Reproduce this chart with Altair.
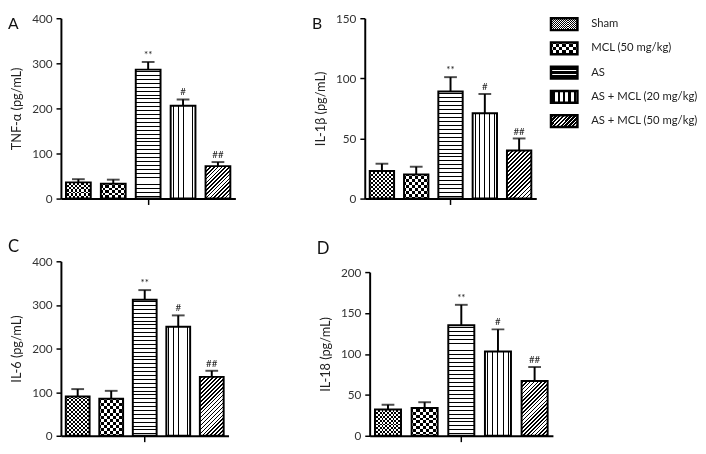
import altair as alt
import pandas as pd

FONT = "Lato"

groups = ["Sham", "MCL (50 mg/kg)", "AS", "AS + MCL (20 mg/kg)", "AS + MCL (50 mg/kg)"]
sig = ["", "", "**", "#", "##"]
kinds = ["checker_fine", "checker_coarse", "hlines", "vlines", "diag"]

tnf_mean = [36, 33, 286, 206, 72]
tnf_sem = [7, 9, 17, 14, 9]
il1b_mean = [23, 20, 89, 71, 40]
il1b_sem = [6, 6.5, 12, 16, 10]
il6_mean = [90, 85, 312, 250, 135]
il6_sem = [17, 18, 22, 26, 14]
il18_mean = [32, 34, 135, 103, 67]
il18_sem = [6, 7, 25, 27, 17]


def stripes(direction, w, h, period, line, fg, bg):
    if direction == "h":
        length = h
    elif direction == "v":
        length = w
    else:
        length = w + h
    n = max(1, int(round(length / period)))
    lf = min(0.95, line / (length / n))
    stops = [{"offset": 0.0, "color": bg}]
    for i in range(n):
        a = round((i + 0.5 - lf / 2) / n, 5)
        b = round((i + 0.5 + lf / 2) / n, 5)
        a = min(max(a, 0.0), 1.0)
        b = min(max(b, 0.0), 1.0)
        stops += [{"offset": a, "color": bg}, {"offset": a, "color": fg},
                  {"offset": b, "color": fg}, {"offset": b, "color": bg}]
    stops.append({"offset": 1.0, "color": bg})
    if direction == "h":
        x1, y1, x2, y2 = 0, 0, 0, 1
    elif direction == "v":
        x1, y1, x2, y2 = 0, 0, 1, 0
    else:
        s = w + h
        d = w * w + h * h
        x1, y1, x2, y2 = 0, 0, round(w * s / d, 5), round(h * s / d, 5)
    return {"gradient": "linear", "x1": x1, "y1": y1, "x2": x2, "y2": y2, "stops": stops}


def fills(kind, w, h, swatch=False):
    h = max(h, 1)
    if kind in ("checker_fine", "checker_coarse"):
        if swatch:
            c = 1.0 if kind == "checker_fine" else 3.0
        else:
            c = 2.0 if kind == "checker_fine" else 3.0
        return [(stripes("v", w, h, 2 * c, c, "black", "white"), None),
                (stripes("h", w, h, 2 * c, c, "white", "black"), "difference")]
    lw = 2.5 if swatch else 1.0
    if kind == "hlines":
        return [(stripes("h", w, h, 4, lw, "black", "white"), None)]
    if kind == "vlines":
        return [(stripes("v", w, h, 5, lw, "black", "white"), None)]
    return [(stripes("d", w, h, 4, 2.5 if swatch else 1.6, "black", "white"), None)]


xaxis = alt.Axis(values=["AS"], labels=False, title=None, domainColor="black",
                 domainWidth=2, tickColor="black", tickWidth=1.5, tickSize=6)


def ychan(field, ymax, ystep, ytitle, H, ytop):
    sc = dict(domain=[0, ymax], nice=False, zero=True)
    if ytop:
        sc["range"] = [H, ytop]
    return alt.Y(f"{field}:Q",
                 scale=alt.Scale(**sc),
                 axis=alt.Axis(values=list(range(0, ymax + 1, ystep)), title=ytitle,
                               titleFont=FONT, titleFontSize=13, titleFontWeight="normal",
                               titleColor="#222", titlePadding=8,
                               labelFont=FONT, labelFontSize=12, labelColor="#333",
                               labelPadding=4, tickSize=5, tickWidth=1.5, tickColor="black",
                               domainColor="black", domainWidth=2, grid=False))


def panel(letter, ytitle, mean, sem, ymax, ystep, W, H, toff, tsize, ytop=0):
    top = [m + s for m, s in zip(mean, sem)]
    df = pd.DataFrame({"group": groups, "mean": mean, "top": top, "sig": sig})
    base = alt.Chart(df)
    X = alt.X("group:N", scale=alt.Scale(domain=groups, paddingInner=0.29, paddingOuter=0.145),
              axis=xaxis)
    Ym = ychan("mean", ymax, ystep, ytitle, H, ytop)
    Yt = ychan("top", ymax, ystep, ytitle, H, ytop)
    bw = W / 5 * 0.71
    Heff = H - ytop
    layers = []
    for g, kind, m in zip(groups, kinds, mean):
        h = m / ymax * Heff
        for grad, blend in fills(kind, bw, h):
            mk = dict(fill=grad, strokeWidth=0)
            if blend:
                mk["blend"] = blend
            layers.append(base.transform_filter(alt.datum.group == g)
                          .mark_bar(**mk).encode(x=X, y=Ym))
    layers.append(base.mark_bar(fill="white", fillOpacity=0, stroke="black", strokeWidth=2)
                  .encode(x=X, y=Ym))
    layers.append(base.mark_rule(color="black", strokeWidth=2)
                  .encode(x=X, y=Ym, y2=alt.Y2("top:Q")))
    layers.append(base.mark_tick(color="black", thickness=2, size=13, orient="horizontal")
                  .encode(x=X, y=Yt))
    layers.append(base.mark_text(font=FONT, fontSize=10, color="#222", baseline="alphabetic", dy=-4)
                  .encode(x=X, y=Yt, text="sig:N"))
    return alt.layer(*layers).properties(
        width=W, height=H,
        title=alt.TitleParams(text=letter, anchor="start", frame="bounds", font=FONT,
                              fontSize=tsize, fontWeight="normal", color="#111",
                              offset=toff, dx=-3))


A = panel("A", "TNF-α (pg/mL)", tnf_mean, tnf_sem, 400, 100, 178, 184, -20, 16)
B = panel("B", "IL-1β (pg/mL)", il1b_mean, il1b_sem, 150, 50, 175, 184, -20, 16)
C = panel("C", "IL-6 (pg/mL)", il6_mean, il6_sem, 400, 100, 171, 178, -1, 17)
D = panel("D", "IL-18 (pg/mL)", il18_mean, il18_sem, 200, 50, 187, 178, 3, 17, ytop=11)

# legend
ldf = pd.DataFrame({"group": groups})
lbase = alt.Chart(ldf)
LY = alt.Y("group:N", scale=alt.Scale(domain=groups, paddingInner=0.51, paddingOuter=0),
           axis=None)
sw_w = 27
llayers = []
for g, kind in zip(groups, kinds):
    for grad, blend in fills(kind, sw_w, 12, swatch=True):
        mk = dict(fill=grad, strokeWidth=0)
        if blend:
            mk["blend"] = blend
        llayers.append(lbase.transform_filter(alt.datum.group == g).mark_rect(**mk)
                       .encode(x=alt.value(0), x2=alt.value(sw_w), y=LY))
llayers.append(lbase.mark_rect(fill="white", fillOpacity=0, stroke="black", strokeWidth=2.5)
               .encode(x=alt.value(0), x2=alt.value(sw_w), y=LY))
llayers.append(lbase.mark_text(font=FONT, fontSize=11.5, color="#222", align="left",
                               baseline="middle")
               .encode(x=alt.value(41), y=LY, text="group:N"))
legend = alt.layer(*llayers).properties(width=150, height=111)

top_row = alt.hconcat(A, alt.hconcat(B, legend, spacing=13), spacing=78)
bottom_row = alt.hconcat(C, D, spacing=90)
chart = (alt.vconcat(top_row, bottom_row, spacing=34)
         .properties(padding=0)
         .configure(font=FONT)
         .configure_view(strokeWidth=0, stroke="transparent"))

chart.save("out.html", embed_options={"renderer": "svg", "actions": False})
